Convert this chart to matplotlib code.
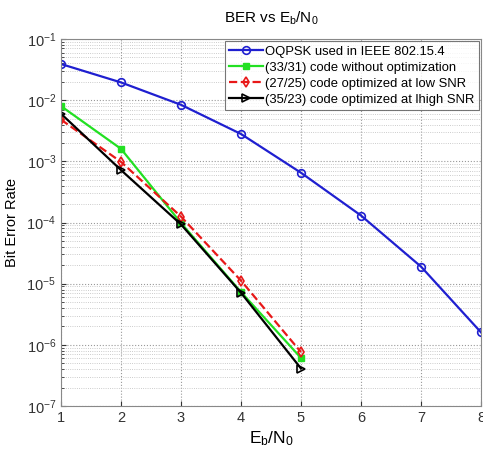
import matplotlib
matplotlib.use("Agg")
import matplotlib.pyplot as plt
import numpy as np

plt.rcParams['font.family'] = ['Liberation Sans', 'DejaVu Sans']
plt.rcParams['mathtext.fontset'] = 'custom'
plt.rcParams['mathtext.rm'] = 'Liberation Sans'
plt.rcParams['mathtext.it'] = 'Liberation Sans'

x_oqpsk = [1, 2, 3, 4, 5, 6, 7, 8]
ber_oqpsk = [3.9e-2, 1.95e-2, 8.4e-3, 2.8e-3, 6.5e-4, 1.3e-4, 1.9e-5, 1.6e-6]

x_codes = [1, 2, 3, 4, 5]
ber_33_31 = [8.0e-3, 1.6e-3, 9.8e-5, 7.3e-6, 6.1e-7]
ber_27_25 = [4.8e-3, 9.8e-4, 1.25e-4, 1.12e-5, 7.6e-7]
ber_35_23 = [6.0e-3, 7.2e-4, 9.3e-5, 7.1e-6, 4.1e-7]

labels = ["OQPSK used in IEEE 802.15.4",
          "(33/31) code without optimization",
          "(27/25) code optimized at low SNR",
          "(35/23) code optimized at lhigh SNR"]

fig = plt.figure(figsize=(4.83, 4.49), dpi=100)
ax = fig.add_axes([61/483, 1-406/449, (481-61)/483, (406-39)/449])

ax.semilogy(x_oqpsk, ber_oqpsk, '-o', color='#1f1fd0', lw=1.6, ms=5.5,
            mfc='none', mew=1.2, label=labels[0])
ax.semilogy(x_codes, ber_33_31, '-s', color='#22e022', lw=1.6, ms=5,
            mfc='#22e022', mew=1.0, label=labels[1])
ax.semilogy(x_codes, ber_27_25, '--d', color='#e81818', lw=1.6, ms=5.5,
            mfc='none', mew=1.2, label=labels[2])
ax.semilogy(x_codes, ber_35_23, '->', color='black', lw=1.6, ms=6,
            mfc='none', mew=1.2, label=labels[3])

ax.set_xlim(1, 8)
ax.set_ylim(1e-7, 1e-1)
ax.set_xticks(range(1, 9))
ax.grid(True, which='major', linestyle=':', color='#999999', lw=0.8)
ax.grid(True, which='minor', linestyle=':', color='#bbbbbb', lw=0.6)
ax.tick_params(which='both', direction='in', labelsize=10.5, colors='#333333')
for s in ax.spines.values():
    s.set_color('#888888')

ax.set_title(r'BER vs E$_\mathrm{b}$/N$_\mathrm{0}$', fontsize=11, pad=12)
ax.set_xlabel(r'E$_\mathrm{b}$/N$_\mathrm{0}$', fontsize=12.5, labelpad=3)
ax.set_ylabel('Bit Error Rate', fontsize=10.5, labelpad=5)

leg = ax.legend(loc='upper right', fontsize=9.4, handlelength=2.6,
                borderaxespad=0.15, frameon=True, fancybox=False,
                edgecolor='#555555', handletextpad=0.15, labelspacing=0.3,
                borderpad=0.35)
leg.get_frame().set_linewidth(0.8)

fig.savefig('out.png', dpi=100)
